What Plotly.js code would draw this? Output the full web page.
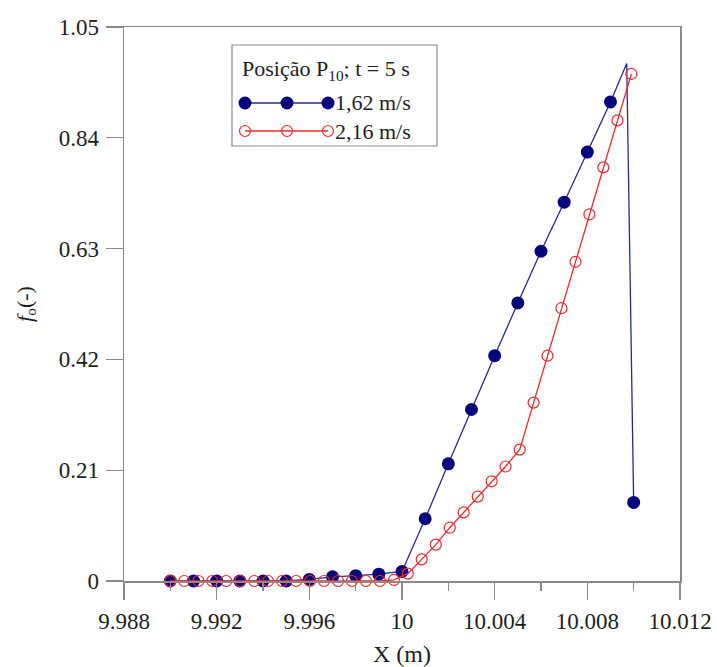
<!DOCTYPE html>
<html>
<head>
<meta charset="utf-8">
<script src="https://cdn.plot.ly/plotly-3.0.1.min.js"></script>
<style>
  html, body { margin: 0; padding: 0; background: #ffffff; }
  #chart { width: 717px; height: 667px; }
</style>
</head>
<body>
<div id="chart"></div>
<script>
// Volume fraction profile at probe P10, t = 5 s, for two inflow velocities
const seriesNames = ['1,62 m/s', '2,16 m/s'];

// 1,62 m/s
const xSlow = [9.990, 9.991, 9.992, 9.993, 9.994, 9.995, 9.996, 9.997, 9.998, 9.999, 10.000,
               10.001, 10.002, 10.003, 10.004, 10.005, 10.006, 10.007, 10.008, 10.009, 10.0097, 10.010];
const ySlow = [0, 0, 0, 0, 0, 0, 0.003, 0.008, 0.010, 0.013, 0.018,
               0.118, 0.222, 0.325, 0.427, 0.527, 0.625, 0.718, 0.813, 0.908, 0.981, 0.149];

// 2,16 m/s
const xFast = [9.99000, 9.99060, 9.99121, 9.99181, 9.99241, 9.99302, 9.99362, 9.99422, 9.99482,
               9.99543, 9.99603, 9.99663, 9.99724, 9.99784, 9.99844, 9.99905, 9.99965,
               10.00025, 10.00085, 10.00146, 10.00206, 10.00266, 10.00327, 10.00387, 10.00447,
               10.00508, 10.00568, 10.00628, 10.00688, 10.00749, 10.00809, 10.00869, 10.00930, 10.00990];
const yFast = [0, 0, 0, 0, 0, 0, 0, 0, 0,
               0, 0, 0, 0, 0, 0, 0, 0.002,
               0.014, 0.041, 0.069, 0.101, 0.130, 0.160, 0.189, 0.217,
               0.249, 0.338, 0.427, 0.517, 0.605, 0.695, 0.784, 0.873, 0.961];

const xTickVals = [9.988, 9.992, 9.996, 10, 10.004, 10.008, 10.012];
const xTickText = ['9.988', '9.992', '9.996', '10', '10.004', '10.008', '10.012'];
const yTickVals = [0, 0.21, 0.42, 0.63, 0.84, 1.05];
const yTickText = ['0', '0.21', '0.42', '0.63', '0.84', '1.05'];

const legendTitle = 'Posição P<sub>10</sub>; t = 5 s';

const BLUE = '#06067a';
const BLUE_LINE = '#2a2a8c';
const RED = '#f22a2a';
const AXIS = '#8a8a8a';
const TEXT = '#1e1e1e';
const FONT = 'Liberation Serif, Times New Roman, serif';

// the crest of the slower profile carries no marker
const crest = ySlow.indexOf(Math.max(...ySlow));
const slowSizes = ySlow.map((v, i) => (i === crest ? 0 : 13));

const traces = [
  {
    x: xSlow, y: ySlow, name: seriesNames[0], type: 'scatter', mode: 'lines+markers',
    line: { color: BLUE_LINE, width: 1.3 },
    marker: { color: BLUE, size: slowSizes, opacity: 1, symbol: 'circle', line: { width: 0 } },
    cliponaxis: false, showlegend: false
  },
  {
    x: xFast, y: yFast, name: seriesNames[1], type: 'scatter', mode: 'lines+markers',
    line: { color: RED, width: 1.3 },
    marker: { color: RED, size: 11, opacity: 1, symbol: 'circle-open', line: { color: RED, width: 1.2 } },
    cliponaxis: false, showlegend: false
  }
];

// plot area geometry (pixels) used to place the hand-drawn legend
const W = 717, H = 667;
const M = { l: 124, r: 37, t: 27, b: 86 };
const PW = W - M.l - M.r, PH = H - M.t - M.b;
const px = v => (v - M.l) / PW;
const py = v => (H - M.b - v) / PH;

const legendRows = [
  { y: 103, color: BLUE, open: false, lineColor: BLUE_LINE, text: seriesNames[0] },
  { y: 131, color: RED, open: true, lineColor: RED, text: seriesNames[1] }
];
const sampleXs = [245, 287, 328];

const shapes = [
  { type: 'rect', xref: 'paper', yref: 'paper',
    x0: px(232), x1: px(437), y0: py(146), y1: py(45),
    line: { color: '#8c8c8c', width: 1.2 }, fillcolor: 'rgba(255,255,255,1)', layer: 'above' }
];
const annotations = [
  { xref: 'paper', yref: 'paper', x: px(240), y: py(70), xanchor: 'left', yanchor: 'middle',
    text: legendTitle, showarrow: false, font: { family: FONT, size: 22, color: TEXT } }
];
legendRows.forEach(r => {
  shapes.push({ type: 'line', xref: 'paper', yref: 'paper',
    x0: px(sampleXs[0]), x1: px(sampleXs[2]), y0: py(r.y), y1: py(r.y),
    line: { color: r.lineColor, width: 1.3 }, layer: 'above' });
  sampleXs.forEach(sx => {
    const rad = r.open ? 5.5 : 6.5;
    shapes.push({ type: 'circle', xref: 'paper', yref: 'paper',
      xsizemode: 'pixel', ysizemode: 'pixel', xanchor: px(sx), yanchor: py(r.y),
      x0: -rad, x1: rad, y0: -rad, y1: rad,
      fillcolor: r.open ? 'rgba(0,0,0,0)' : r.color,
      line: { color: r.color, width: r.open ? 1.2 : 0 }, layer: 'above' });
  });
  annotations.push({ xref: 'paper', yref: 'paper', x: px(333), y: py(r.y), xanchor: 'left',
    yanchor: 'middle', text: r.text, showarrow: false, font: { family: FONT, size: 22, color: TEXT } });
});

const layout = {
  width: W, height: H,
  margin: M,
  paper_bgcolor: '#ffffff', plot_bgcolor: '#ffffff',
  font: { family: FONT, size: 23, color: TEXT },
  showlegend: false,
  xaxis: {
    range: [9.988, 10.012], tickmode: 'array', tickvals: xTickVals, ticktext: xTickText,
    showgrid: false, zeroline: false, showline: true, mirror: true,
    linecolor: AXIS, linewidth: 1.5, ticks: 'outside', ticklen: 17, tickwidth: 1.3, tickcolor: AXIS,
    ticklabelstandoff: 2,
    minor: { tickmode: 'linear', tick0: 9.988, dtick: 0.002, ticks: 'outside', ticklen: 8, tickcolor: AXIS, tickwidth: 1.2, showgrid: false },
    tickfont: { family: FONT, size: 23, color: TEXT },
    title: { text: 'X (m)', font: { family: FONT, size: 24, color: TEXT }, standoff: 12 }
  },
  yaxis: {
    range: [0, 1.05], tickmode: 'array', tickvals: yTickVals, ticktext: yTickText,
    showgrid: false, zeroline: false, showline: true, mirror: true,
    linecolor: AXIS, linewidth: 1.5, ticks: 'outside', ticklen: 17, tickwidth: 1.3, tickcolor: AXIS,
    ticklabelstandoff: 2,
    tickfont: { family: FONT, size: 23, color: TEXT },
    title: { text: '<i>f</i><sub>o</sub>(-)', font: { family: FONT, size: 22, color: TEXT }, standoff: 20 }
  },
  shapes: shapes,
  annotations: annotations
};

Plotly.newPlot('chart', traces, layout, { staticPlot: true, displayModeBar: false });
</script>
</body>
</html>
